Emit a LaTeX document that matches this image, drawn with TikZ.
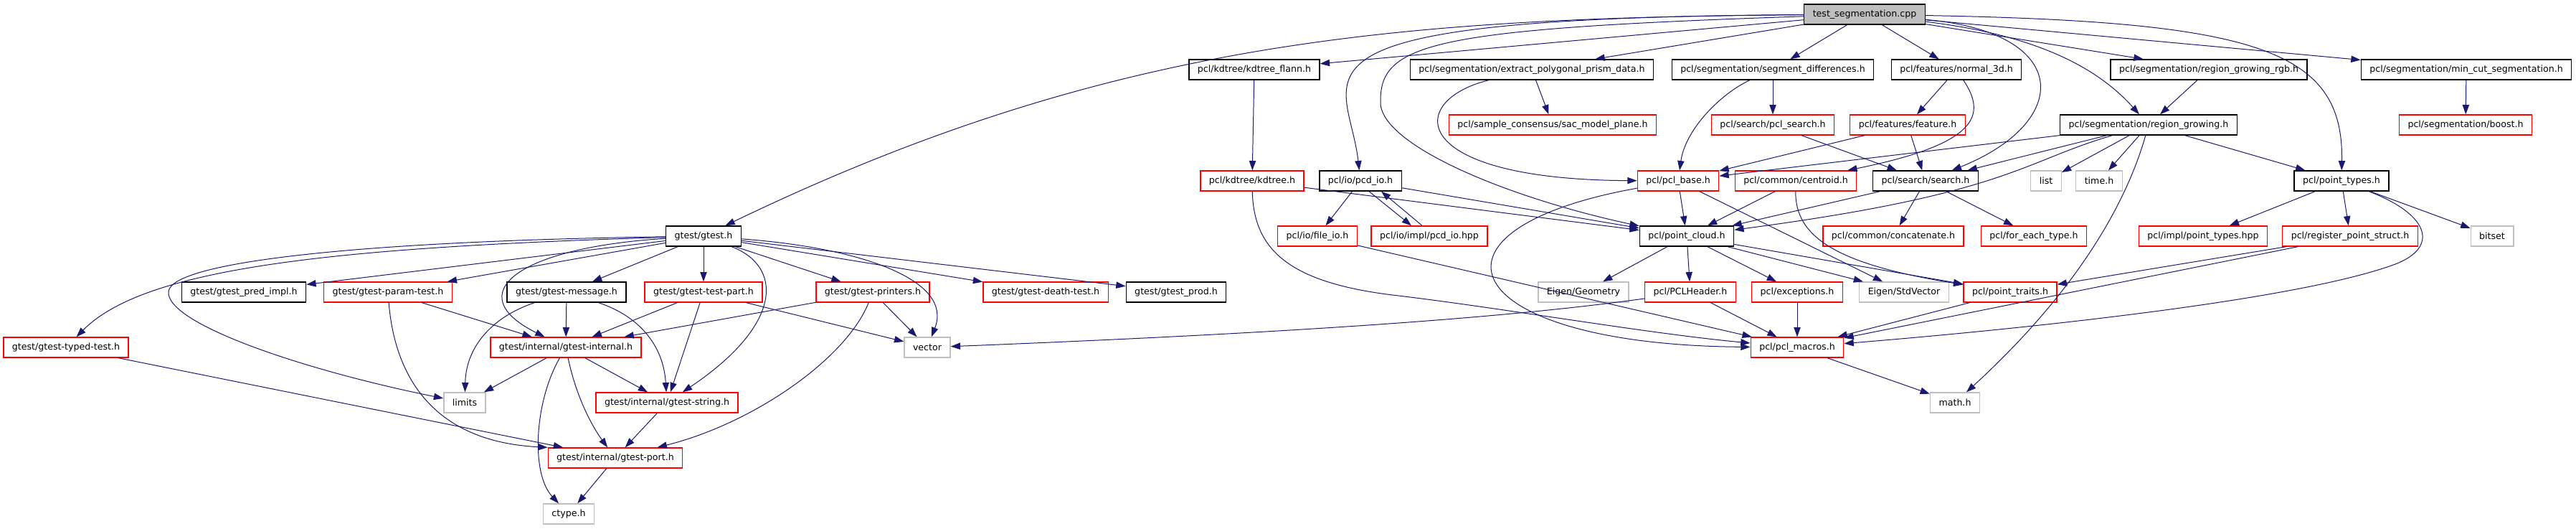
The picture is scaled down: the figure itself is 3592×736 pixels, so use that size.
\documentclass[tikz,border=0pt]{standalone}
\usepackage{fontspec}
\setmainfont{DejaVu Sans}
\usepackage{xcolor}
\usepackage{tikz}
\usetikzlibrary{arrows.meta, positioning, calc}
\definecolor{incblue}{HTML}{191970}
\definecolor{incred}{HTML}{FF0000}
\definecolor{incgray}{HTML}{BFBFBF}
\tikzset{
  incbox/.style={
    draw=black, line width=1pt, fill=white, rectangle,
    font=\fontsize{9.45pt}{11pt}\selectfont,
    minimum height=21pt, inner xsep=9pt, inner ysep=0pt
  },
  incred/.style={incbox, draw=incred},
  incsys/.style={incbox, draw=incgray},
  incroot/.style={incbox, fill=incgray},
  incarrow/.style={
    -{Triangle[length=10pt,width=7pt]}, draw=incblue, line width=0.75pt
  },
}

\begin{document}
\begin{tikzpicture}[x=0.75pt, y=-0.75pt]
  \useasboundingbox (0,0) rectangle (3592,736);

  % Root
  \node[incroot] (root) at (2600,20) {test\_segmentation.cpp};

  % pcl, first row
  \node[incbox] (kdflann) at (1749,97) {pcl/kdtree/kdtree\_flann.h};
  \node[incbox] (prism) at (2136,97) {pcl/segmentation/extract\_polygonal\_prism\_data.h};
  \node[incbox] (segdiff) at (2472,97) {pcl/segmentation/segment\_differences.h};
  \node[incbox] (normal) at (2728,97) {pcl/features/normal\_3d.h};
  \node[incbox] (rgrgb) at (3080,97) {pcl/segmentation/region\_growing\_rgb.h};
  \node[incbox] (mincut) at (3439,97) {pcl/segmentation/min\_cut\_segmentation.h};

  % pcl, second row
  \node[incred] (sacplane) at (2165,174) {pcl/sample\_consensus/sac\_model\_plane.h};
  \node[incred] (pclsearch) at (2472,174) {pcl/search/pcl\_search.h};
  \node[incred] (feature) at (2660,174) {pcl/features/feature.h};
  \node[incbox] (rgrow) at (2996,174) {pcl/segmentation/region\_growing.h};
  \node[incred] (boost) at (3438,174) {pcl/segmentation/boost.h};

  % pcl, third row
  \node[incred] (kdtree) at (1746,252) {pcl/kdtree/kdtree.h};
  \node[incbox] (pcdio) at (1897,252) {pcl/io/pcd\_io.h};
  \node[incred] (pclbase) at (2340,252) {pcl/pcl\_base.h};
  \node[incred] (centroid) at (2504,252) {pcl/common/centroid.h};
  \node[incbox] (search) at (2685,252) {pcl/search/search.h};
  \node[incsys] (list) at (2853,252) {list};
  \node[incsys] (timeh) at (2927,252) {time.h};
  \node[incbox] (ptypes) at (3265,252) {pcl/point\_types.h};

  % fourth row
  \node[incbox] (gtest) at (981,329) {gtest/gtest.h};
  \node[incred] (fileio) at (1837,329) {pcl/io/file\_io.h};
  \node[incred] (pcdhpp) at (1993,329) {pcl/io/impl/pcd\_io.hpp};
  \node[incbox] (pcloud) at (2352,329) {pcl/point\_cloud.h};
  \node[incred] (concat) at (2640,329) {pcl/common/concatenate.h};
  \node[incred] (eachtype) at (2836,329) {pcl/for\_each\_type.h};
  \node[incred] (impltypes) at (3072,329) {pcl/impl/point\_types.hpp};
  \node[incred] (regstruct) at (3277,329) {pcl/register\_point\_struct.h};
  \node[incsys] (bitset) at (3475,329) {bitset};

  % fifth row
  \node[incbox] (predimpl) at (340,407) {gtest/gtest\_pred\_impl.h};
  \node[incred] (paramtest) at (541,407) {gtest/gtest-param-test.h};
  \node[incbox] (message) at (790,407) {gtest/gtest-message.h};
  \node[incred] (testpart) at (981,407) {gtest/gtest-test-part.h};
  \node[incred] (printers) at (1217,407) {gtest/gtest-printers.h};
  \node[incred] (deathtest) at (1458,407) {gtest/gtest-death-test.h};
  \node[incbox] (prod) at (1640,407) {gtest/gtest\_prod.h};
  \node[incsys] (geometry) at (2208,407) {Eigen/Geometry};
  \node[incred] (pclheader) at (2357,407) {pcl/PCLHeader.h};
  \node[incred] (exceptions) at (2506,407) {pcl/exceptions.h};
  \node[incsys] (stdvector) at (2655,407) {Eigen/StdVector};
  \node[incred] (ptraits) at (2803,407) {pcl/point\_traits.h};

  % lower rows
  \node[incred] (typedtest) at (92,484) {gtest/gtest-typed-test.h};
  \node[incred] (internal) at (789,484) {gtest/internal/gtest-internal.h};
  \node[incsys] (vector) at (1293,484) {vector};
  \node[incred] (macros) at (2506,484) {pcl/pcl\_macros.h};
  \node[incsys] (limits) at (648,561) {limits};
  \node[incred] (gstring) at (930,561) {gtest/internal/gtest-string.h};
  \node[incsys] (mathh) at (2726,561) {math.h};
  \node[incred] (port) at (858,638) {gtest/internal/gtest-port.h};
  \node[incsys] (ctype) at (793,716) {ctype.h};

  % Straight includes
  \foreach \src/\dst in {
    root/kdflann, root/prism, root/segdiff, root/normal, root/rgrgb, root/mincut,
    kdflann/kdtree, prism/sacplane, segdiff/pclsearch, normal/feature,
    rgrgb/rgrow, mincut/boost, pclsearch/search, feature/pclbase,
    feature/search, rgrow/pclbase, rgrow/search, rgrow/list, rgrow/timeh,
    rgrow/ptypes, kdtree/pcloud, pcdio/fileio, pcdio/pcloud, pclbase/pcloud,
    pclbase/stdvector, centroid/pcloud, search/pcloud, search/concat,
    search/eachtype, ptypes/impltypes, ptypes/regstruct, ptypes/bitset,
    pcloud/geometry, pcloud/pclheader, pcloud/exceptions, pcloud/stdvector,
    pcloud/ptraits, fileio/macros, pclheader/macros, exceptions/macros,
    ptraits/macros, regstruct/ptraits, regstruct/macros, macros/mathh,
    gtest/predimpl, gtest/paramtest, gtest/message, gtest/testpart,
    gtest/printers, gtest/deathtest, gtest/prod, paramtest/internal,
    message/internal, testpart/internal, testpart/gstring, testpart/vector,
    printers/internal, printers/vector, typedtest/port, internal/limits,
    internal/gstring, gstring/port, port/ctype}
    \draw[incarrow] (\src) -- (\dst);

  % pcd_io.h and its impl include each other
  \draw[incarrow] ($(pcdio.south)+(12,0)$) -- ($(pcdhpp.north)+(-25,0)$);
  \draw[incarrow] ($(pcdhpp.north)+(-10,0)$) -- ($(pcdio.south)+(29,0)$);

  % Curved includes from the root
  \draw[incarrow] (root) .. controls (1950,25) and (1550,55) .. (gtest);
  \draw[incarrow] (root) .. controls (1750,25) and (1880,100) .. (pcdio);
  \draw[incarrow] (root) .. controls (2000,40) and (1925,60) .. (1925,140)
    .. controls (1920,200) and (2100,275) .. (pcloud);
  \draw[incarrow] (root) .. controls (2890,45) and (2890,170) .. (search);
  \draw[incarrow] (root) .. controls (2850,50) and (2930,100) .. (rgrow);
  \draw[incarrow] (root) .. controls (3150,30) and (3268,70) .. (ptypes);

  % Curved gtest includes
  \draw[incarrow] (gtest) .. controls (450,345) and (200,375) .. (typedtest);
  \draw[incarrow] (gtest) .. controls (500,336) and (240,365) .. (235,406)
    .. controls (230,450) and (420,515) .. (limits);
  \draw[incarrow] (gtest) .. controls (720,345) and (640,410) .. (internal);
  \draw[incarrow] (gtest) .. controls (1090,370) and (1095,450) .. (gstring);
  \draw[incarrow] (gtest) .. controls (1200,345) and (1330,390) .. (vector);
  \draw[incarrow] (message) .. controls (690,440) and (650,480) .. (limits);
  \draw[incarrow] (message) .. controls (890,440) and (925,480) .. (gstring);
  \draw[incarrow] (printers) .. controls (1180,500) and (1050,590) .. (port);
  \draw[incarrow] (paramtest) .. controls (550,520) and (600,615) .. (port.north west);
  \draw[incarrow] (internal) .. controls (745,560) and (740,660) .. (ctype);
  \draw[incarrow] (internal) .. controls (805,560) and (830,600) .. (port);

  % Curved pcl includes
  \draw[incarrow] (prism) .. controls (1960,140) and (1960,250) .. (pclbase);
  \draw[incarrow] (segdiff) .. controls (2400,130) and (2350,180) .. (pclbase);
  \draw[incarrow] (normal) .. controls (2770,160) and (2760,200) .. (centroid);
  \draw[incarrow] (rgrow) .. controls (2820,225) and (2800,270) .. (pcloud);
  \draw[incarrow] (rgrow) .. controls (2960,300) and (2880,420) .. (mathh);
  \draw[incarrow] (pclbase) .. controls (1960,320) and (2030,480) .. (macros);
  \draw[incarrow] (kdtree) .. controls (1748,350) and (1800,395) .. (1950,412)
    .. controls (2100,430) and (2300,465) .. (macros);
  \draw[incarrow] (centroid) .. controls (2503,330) and (2560,368) .. (ptraits);
  \draw[incarrow] (ptypes) .. controls (3390,300) and (3400,345) .. (3340,368)
    .. controls (3200,420) and (2800,460) .. (macros);
  \draw[incarrow] (pclheader) .. controls (2100,443) and (1800,464) .. (vector);
\end{tikzpicture}
\end{document}
